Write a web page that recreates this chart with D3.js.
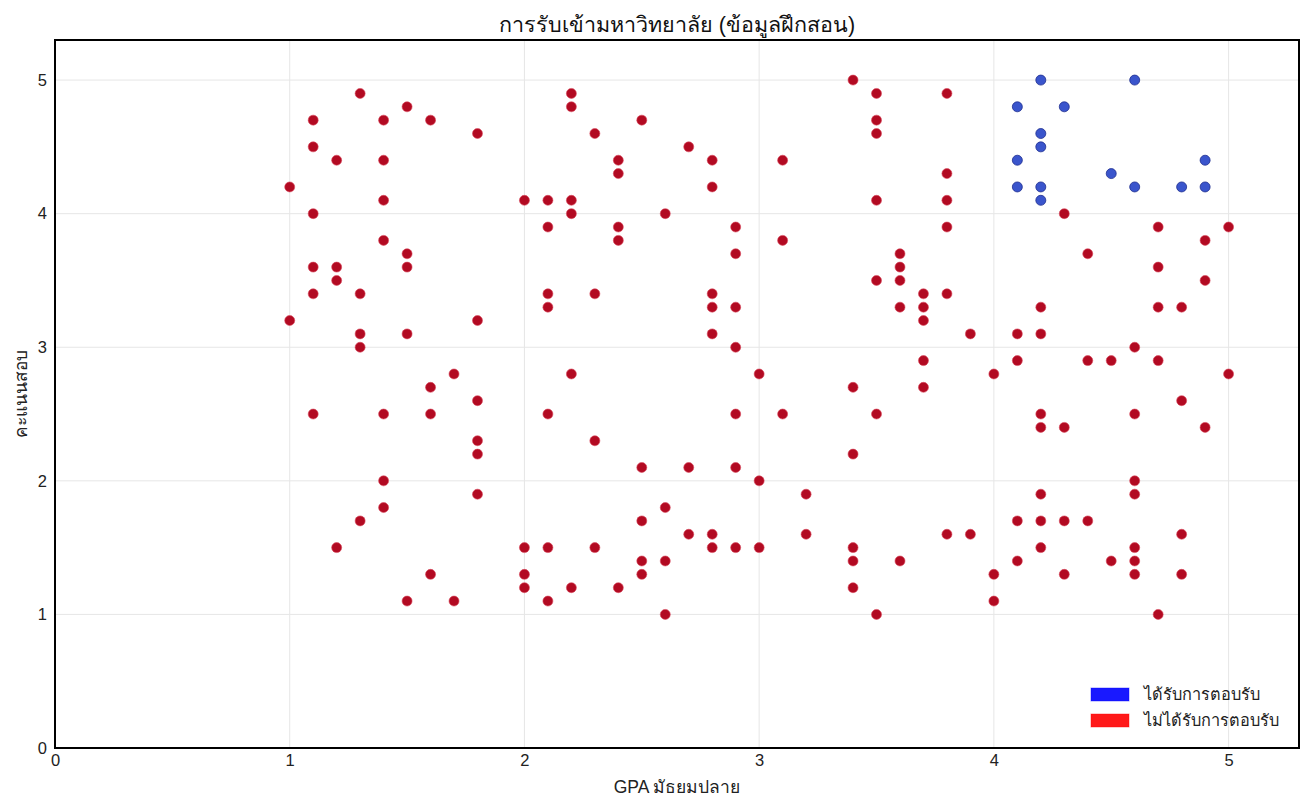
<!DOCTYPE html>
<html>
<head>
<meta charset="utf-8">
<script src="https://cdnjs.cloudflare.com/ajax/libs/d3/7.8.5/d3.min.js"></script>
<style>
  body { margin: 0; background: #fff; }
  svg { display: block; font-family: "Liberation Sans", Arial, sans-serif; }
  .grid line { stroke: #e6e6e6; stroke-width: 1; }
  .axis text { font-size: 16.5px; fill: #222; }
  .axis path, .axis line { display: none; }
</style>
</head>
<body>
<div id="chart"></div>
<script>

// admitted (blue) points: GPA, exam score
var admittedGpa   = [4.2, 4.6, 4.1, 4.3, 4.2, 4.2, 4.1, 4.9, 4.5, 4.1, 4.2, 4.6, 4.8, 4.9, 4.2];
var admittedScore = [5.0, 5.0, 4.8, 4.8, 4.6, 4.5, 4.4, 4.4, 4.3, 4.2, 4.2, 4.2, 4.2, 4.2, 4.1];

// rejected (red) points, grouped by GPA column
var rejectedGpa = [
  1.0, 1.0,
  1.1, 1.1, 1.1, 1.1, 1.1, 1.1,
  1.2, 1.2, 1.2, 1.2,
  1.3, 1.3, 1.3, 1.3, 1.3,
  1.4, 1.4, 1.4, 1.4, 1.4, 1.4, 1.4,
  1.5, 1.5, 1.5, 1.5, 1.5,
  1.6, 1.6, 1.6, 1.6,
  1.7, 1.7,
  1.8, 1.8, 1.8, 1.8, 1.8, 1.8,
  2.0, 2.0, 2.0, 2.0,
  2.1, 2.1, 2.1, 2.1, 2.1, 2.1, 2.1,
  2.2, 2.2, 2.2, 2.2, 2.2, 2.2,
  2.3, 2.3, 2.3, 2.3,
  2.4, 2.4, 2.4, 2.4, 2.4,
  2.5, 2.5, 2.5, 2.5, 2.5,
  2.6, 2.6, 2.6, 2.6,
  2.7, 2.7, 2.7,
  2.8, 2.8, 2.8, 2.8, 2.8, 2.8, 2.8,
  2.9, 2.9, 2.9, 2.9, 2.9, 2.9, 2.9,
  3.0, 3.0, 3.0,
  3.1, 3.1, 3.1,
  3.2, 3.2,
  3.4, 3.4, 3.4, 3.4, 3.4, 3.4,
  3.5, 3.5, 3.5, 3.5, 3.5, 3.5, 3.5,
  3.6, 3.6, 3.6, 3.6, 3.6,
  3.7, 3.7, 3.7, 3.7, 3.7,
  3.8, 3.8, 3.8, 3.8, 3.8, 3.8,
  3.9, 3.9,
  4.0, 4.0, 4.0,
  4.1, 4.1, 4.1, 4.1,
  4.2, 4.2, 4.2, 4.2, 4.2, 4.2, 4.2,
  4.3, 4.3, 4.3, 4.3,
  4.4, 4.4, 4.4,
  4.5, 4.5,
  4.6, 4.6, 4.6, 4.6, 4.6, 4.6, 4.6,
  4.7, 4.7, 4.7, 4.7, 4.7,
  4.8, 4.8, 4.8, 4.8,
  4.9, 4.9, 4.9,
  5.0, 5.0
];
var rejectedScore = [
  4.2, 3.2,
  4.7, 4.5, 4.0, 3.6, 3.4, 2.5,
  4.4, 3.6, 3.5, 1.5,
  4.9, 3.4, 3.1, 3.0, 1.7,
  4.7, 4.4, 4.1, 3.8, 2.5, 2.0, 1.8,
  4.8, 3.7, 3.6, 3.1, 1.1,
  4.7, 2.7, 2.5, 1.3,
  2.8, 1.1,
  4.6, 3.2, 2.6, 2.3, 2.2, 1.9,
  4.1, 1.5, 1.3, 1.2,
  4.1, 3.9, 3.4, 3.3, 2.5, 1.5, 1.1,
  4.9, 4.8, 4.1, 4.0, 2.8, 1.2,
  4.6, 3.4, 2.3, 1.5,
  4.4, 4.3, 3.9, 3.8, 1.2,
  4.7, 2.1, 1.7, 1.4, 1.3,
  4.0, 1.8, 1.4, 1.0,
  4.5, 2.1, 1.6,
  4.4, 4.2, 3.4, 3.3, 3.1, 1.6, 1.5,
  3.9, 3.7, 3.3, 3.0, 2.5, 2.1, 1.5,
  2.8, 2.0, 1.5,
  4.4, 3.8, 2.5,
  1.9, 1.6,
  5.0, 2.7, 2.2, 1.5, 1.4, 1.2,
  4.9, 4.7, 4.6, 4.1, 3.5, 2.5, 1.0,
  3.7, 3.6, 3.5, 3.3, 1.4,
  3.4, 3.3, 3.2, 2.9, 2.7,
  4.9, 4.3, 4.1, 3.9, 3.4, 1.6,
  3.1, 1.6,
  2.8, 1.3, 1.1,
  3.1, 2.9, 1.7, 1.4,
  3.3, 3.1, 2.5, 2.4, 1.9, 1.7, 1.5,
  4.0, 2.4, 1.7, 1.3,
  3.7, 2.9, 1.7,
  2.9, 1.4,
  3.0, 2.5, 2.0, 1.9, 1.5, 1.4, 1.3,
  3.9, 3.6, 3.3, 2.9, 1.0,
  3.3, 2.6, 1.6, 1.3,
  3.8, 3.5, 2.4,
  3.9, 2.8
];

var xTicks = [0, 1, 2, 3, 4, 5];
var yTicks = [0, 1, 2, 3, 4, 5];
var legendLabels = ["ได้รับการตอบรับ", "ไม่ได้รับการตอบรับ"];

var titleText = "การรับเข้ามหาวิทยาลัย (ข้อมูลฝึกสอน)";
var xLabel = "GPA มัธยมปลาย";
var yLabel = "คะแนนสอบ";

var margin = {top: 40, right: 13, bottom: 62, left: 55},
    width = 1312 - margin.left - margin.right,
    height = 810 - margin.top - margin.bottom;

var x = d3.scaleLinear().domain([0, 5.3]).range([0, width]);
var y = d3.scaleLinear().domain([0, 5.3]).range([height, 0]);

var svg = d3.select("#chart").append("svg")
    .attr("width", 1312)
    .attr("height", 810);

var g = svg.append("g")
    .attr("transform", "translate(" + margin.left + "," + margin.top + ")");

// grid lines
var grid = g.append("g").attr("class", "grid");
grid.selectAll(".vx")
    .data(xTicks)
  .enter().append("line")
    .attr("x1", function(d) { return x(d); })
    .attr("x2", function(d) { return x(d); })
    .attr("y1", 0)
    .attr("y2", height);
grid.selectAll(".hy")
    .data(yTicks)
  .enter().append("line")
    .attr("y1", function(d) { return y(d); })
    .attr("y2", function(d) { return y(d); })
    .attr("x1", 0)
    .attr("x2", width);

// axes (labels only, no tick marks)
g.append("g")
    .attr("class", "x axis")
    .attr("transform", "translate(0," + height + ")")
    .call(d3.axisBottom(x).tickValues(xTicks).tickSize(0).tickPadding(6).tickFormat(d3.format("d")));

g.append("g")
    .attr("class", "y axis")
    .call(d3.axisLeft(y).tickValues(yTicks).tickSize(0).tickPadding(8).tickFormat(d3.format("d")));

// points
var rejected = rejectedGpa.map(function(v, i) { return {gpa: v, score: rejectedScore[i]}; });
var admitted = admittedGpa.map(function(v, i) { return {gpa: v, score: admittedScore[i]}; });

g.selectAll(".rej")
    .data(rejected)
  .enter().append("circle")
    .attr("class", "rej")
    .attr("cx", function(d) { return x(d.gpa); })
    .attr("cy", function(d) { return y(d.score); })
    .attr("r", 5)
    .style("fill", "#b20a22")
    .style("stroke", "#d9475a")
    .style("stroke-width", 0.6);

g.selectAll(".adm")
    .data(admitted)
  .enter().append("circle")
    .attr("class", "adm")
    .attr("cx", function(d) { return x(d.gpa); })
    .attr("cy", function(d) { return y(d.score); })
    .attr("r", 5)
    .style("fill", "#3a55cc")
    .style("stroke", "#1e2d8f")
    .style("stroke-width", 0.8);

// frame
g.append("rect")
    .attr("x", 0)
    .attr("y", 0)
    .attr("width", width)
    .attr("height", height)
    .style("fill", "none")
    .style("stroke", "#000")
    .style("stroke-width", 2);

// legend
var legendColors = ["#0000ff", "#ff0000"];
var legend = g.append("g")
    .attr("transform", "translate(" + (width - 208) + "," + (height - 60) + ")");
var item = legend.selectAll(".item")
    .data(legendLabels)
  .enter().append("g")
    .attr("transform", function(d, i) { return "translate(0," + (i * 26) + ")"; });
item.append("rect")
    .attr("width", 38)
    .attr("height", 13)
    .style("fill", function(d, i) { return legendColors[i]; })
    .style("fill-opacity", 0.9)
    .style("stroke", function(d, i) { return legendColors[i]; })
    .style("stroke-opacity", 0.4);
item.append("text")
    .attr("x", 53)
    .attr("y", 12)
    .style("font-size", "16.3px")
    .style("fill", "#222")
    .text(function(d) { return d; });

// titles
svg.append("text")
    .attr("x", margin.left + width / 2)
    .attr("y", 32)
    .attr("text-anchor", "middle")
    .style("font-size", "21.5px")
    .style("fill", "#111")
    .text(titleText);

svg.append("text")
    .attr("x", margin.left + width / 2)
    .attr("y", 793)
    .attr("text-anchor", "middle")
    .style("font-size", "17.5px")
    .style("fill", "#222")
    .text(xLabel);

svg.append("text")
    .attr("transform", "translate(27," + (margin.top + height / 2) + ") rotate(-90)")
    .attr("text-anchor", "middle")
    .style("font-size", "17.3px")
    .style("fill", "#222")
    .text(yLabel);

</script>
</body>
</html>
